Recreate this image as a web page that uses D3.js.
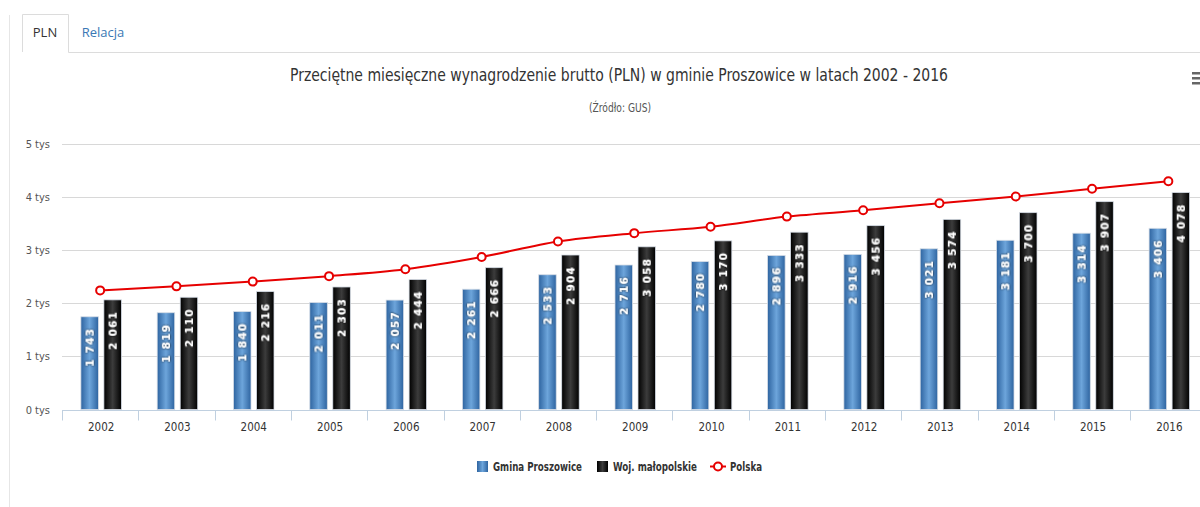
<!DOCTYPE html>
<html>
<head>
<meta charset="utf-8">
<script src="https://cdn.jsdelivr.net/npm/d3@7/dist/d3.min.js"></script>
<style>
  html, body { margin: 0; padding: 0; background: #fff; overflow: hidden; }
  svg { display: block; }
</style>
</head>
<body>
<svg id="chart" width="1200" height="507"></svg>
<script>
// Average gross monthly salary (PLN), 2002–2016
const years = ["2002","2003","2004","2005","2006","2007","2008","2009","2010","2011","2012","2013","2014","2015","2016"];
const gmina = [1743, 1819, 1840, 2011, 2057, 2261, 2533, 2716, 2780, 2896, 2916, 3021, 3181, 3314, 3406];
const woj = [2061, 2110, 2216, 2303, 2444, 2666, 2904, 3058, 3170, 3333, 3456, 3574, 3700, 3907, 4078];
const polska = [2239, 2315, 2404, 2507, 2637, 2867, 3159, 3315, 3435, 3626, 3744, 3877, 4004, 4150, 4291];
const yTicks = [0, 1000, 2000, 3000, 4000, 5000];

const svg = d3.select("#chart");
const defs = svg.append("defs");

// cylinder-like horizontal gradients for the bars
function hGrad(id, edge, mid) {
  const g = defs.append("linearGradient").attr("id", id)
    .attr("x1", "0%").attr("x2", "100%").attr("y1", "0%").attr("y2", "0%");
  g.append("stop").attr("offset", "0%").attr("stop-color", edge);
  g.append("stop").attr("offset", "50%").attr("stop-color", mid);
  g.append("stop").attr("offset", "100%").attr("stop-color", edge);
}
hGrad("gBlue", "#2e64a0", "#6da5db");
hGrad("gBlack", "#000000", "#3c3c3c");

const shadow = defs.append("filter").attr("id", "txtShadow")
  .attr("x", "-30%").attr("y", "-30%").attr("width", "160%").attr("height", "160%");
shadow.append("feDropShadow").attr("dx", 0).attr("dy", 0).attr("stdDeviation", 0.8)
  .attr("flood-color", "#000").attr("flood-opacity", 1);

// ---- tabs ----
svg.append("line").attr("x1", 9.5).attr("x2", 9.5).attr("y1", 15).attr("y2", 507)
  .attr("stroke", "#e6e6e6").attr("stroke-width", 1);
svg.append("path").attr("d", "M22.5,52 V14.5 H68.5 V52.5 H1200")
  .attr("fill", "none").attr("stroke", "#dcdcdc").attr("stroke-width", 1);
svg.append("text").attr("x", 45).attr("y", 37).attr("text-anchor", "middle")
  .attr("font-family", "'Open Sans', sans-serif").attr("font-size", 13).attr("fill", "#333")
  .text("PLN");
svg.append("text").attr("x", 103).attr("y", 37).attr("text-anchor", "middle")
  .attr("font-family", "'Open Sans', sans-serif").attr("font-size", 13).attr("fill", "#3a78b5")
  .text("Relacja");

// ---- titles ----
svg.append("text").attr("x", 619).attr("y", 81).attr("text-anchor", "middle")
  .attr("font-family", "'DejaVu Sans Condensed', 'DejaVu Sans', sans-serif")
  .attr("font-size", 17).attr("fill", "#333")
  .attr("textLength", 658).attr("lengthAdjust", "spacingAndGlyphs")
  .text("Przeciętne miesięczne wynagrodzenie brutto (PLN) w gminie Proszowice w latach 2002 - 2016");
svg.append("text").attr("x", 620).attr("y", 112).attr("text-anchor", "middle")
  .attr("font-family", "'DejaVu Sans Condensed', 'DejaVu Sans', sans-serif")
  .attr("font-size", 12).attr("fill", "#555")
  .attr("textLength", 62).attr("lengthAdjust", "spacingAndGlyphs")
  .text("(Źródło: GUS)");

// menu icon
[72, 77, 82].forEach(yy => {
  svg.append("rect").attr("x", 1192).attr("y", yy).attr("width", 9).attr("height", 2.5)
    .attr("fill", "#666");
});

// ---- scales ----
const plotLeft = 62, band = 76.3;
const x = d3.scaleBand().domain(years).range([plotLeft, plotLeft + band * years.length]).padding(0);
const y = d3.scaleLinear().domain([0, 5000]).range([409.5, 143.5]);
const cx = d => x(d) + x.bandwidth() / 2;

// gridlines
svg.append("g").selectAll("line").data(yTicks).join("line")
  .attr("x1", plotLeft).attr("x2", 1210)
  .attr("y1", d => Math.round(y(d)) + 0.5).attr("y2", d => Math.round(y(d)) + 0.5)
  .attr("stroke", "#d8d8d8").attr("stroke-width", 1);

// y labels
svg.append("g").selectAll("text").data(yTicks).join("text")
  .attr("x", 50).attr("y", d => y(d) + 4).attr("text-anchor", "end")
  .attr("font-family", "'DejaVu Sans Condensed', sans-serif").attr("font-size", 11)
  .attr("fill", "#555")
  .text(d => (d / 1000) + " tys");

// x axis
const xAxis = svg.append("g").attr("transform", `translate(0,${410.5})`);
xAxis.append("line").attr("x1", plotLeft).attr("x2", 1210).attr("stroke", "#c0d0e0");
xAxis.selectAll("line.tick").data(years.concat(["end"])).join("line")
  .attr("class", "tick")
  .attr("x1", (d, i) => Math.round(plotLeft + band * i) + 0.5)
  .attr("x2", (d, i) => Math.round(plotLeft + band * i) + 0.5)
  .attr("y1", 0).attr("y2", 10).attr("stroke", "#c0d0e0");
svg.append("g").selectAll("text").data(years).join("text")
  .attr("x", d => cx(d) + 1).attr("y", 431).attr("text-anchor", "middle")
  .attr("font-family", "'DejaVu Sans Condensed', sans-serif").attr("font-size", 11.5)
  .attr("fill", "#333")
  .text(d => d);

// ---- bars ----
const barW = 17.5, off = 11.5;
const fmt = v => { const s = String(v); return s.length > 3 ? s.slice(0, s.length - 3) + " " + s.slice(-3) : s; };

const series = [
  { vals: gmina, fill: "url(#gBlue)", dx: -off },
  { vals: woj, fill: "url(#gBlack)", dx: off }
];
series.forEach(s => {
  const g = svg.append("g");
  g.selectAll("rect").data(years).join("rect")
    .attr("x", d => cx(d) + 1 + s.dx - barW / 2)
    .attr("y", (d, i) => y(s.vals[i]))
    .attr("width", barW)
    .attr("height", (d, i) => y(0) - y(s.vals[i]))
    .attr("fill", s.fill)
    .attr("stroke", "#d6dde6").attr("stroke-width", 0.8);
  g.selectAll("text").data(years).join("text")
    .attr("transform", (d, i) => {
      const tx = cx(d) + 1 + s.dx + 4;
      const ty = y(s.vals[i]) + 11;
      return `translate(${tx},${ty}) rotate(-90)`;
    })
    .attr("text-anchor", "end")
    .attr("font-family", "'DejaVu Sans', sans-serif").attr("font-weight", "bold")
    .attr("font-size", 10.5).attr("letter-spacing", 1.2)
    .attr("fill", "#fff").attr("filter", "url(#txtShadow)")
    .text((d, i) => fmt(s.vals[i]));
});

// ---- Polska line ----
const pts = years.map((d, i) => [cx(d), y(polska[i])]);
svg.append("path").datum(pts)
  .attr("d", d3.line().curve(d3.curveMonotoneX))
  .attr("fill", "none").attr("stroke", "#e60000").attr("stroke-width", 2);
svg.append("g").selectAll("circle").data(pts).join("circle")
  .attr("cx", d => d[0]).attr("cy", d => d[1]).attr("r", 4)
  .attr("fill", "#fff").attr("stroke", "#e60000").attr("stroke-width", 2);

// ---- legend ----
const lg = svg.append("g").attr("font-family", "'DejaVu Sans Condensed', sans-serif")
  .attr("font-size", 12).attr("font-weight", "bold").attr("fill", "#333");
lg.append("rect").attr("x", 477).attr("y", 461).attr("width", 11).attr("height", 11)
  .attr("fill", "url(#gBlue)");
lg.append("text").attr("x", 493).attr("y", 471).attr("textLength", 89)
  .attr("lengthAdjust", "spacingAndGlyphs").text("Gmina Proszowice");
lg.append("rect").attr("x", 597).attr("y", 461).attr("width", 11).attr("height", 11)
  .attr("fill", "url(#gBlack)");
lg.append("text").attr("x", 613).attr("y", 471).attr("textLength", 84)
  .attr("lengthAdjust", "spacingAndGlyphs").text("Woj. małopolskie");
lg.append("line").attr("x1", 710).attr("x2", 726).attr("y1", 466.5).attr("y2", 466.5)
  .attr("stroke", "#e60000").attr("stroke-width", 2);
lg.append("circle").attr("cx", 718).attr("cy", 466.5).attr("r", 4)
  .attr("fill", "#fff").attr("stroke", "#e60000").attr("stroke-width", 2);
lg.append("text").attr("x", 730).attr("y", 471).attr("textLength", 32)
  .attr("lengthAdjust", "spacingAndGlyphs").text("Polska");
</script>
</body>
</html>
